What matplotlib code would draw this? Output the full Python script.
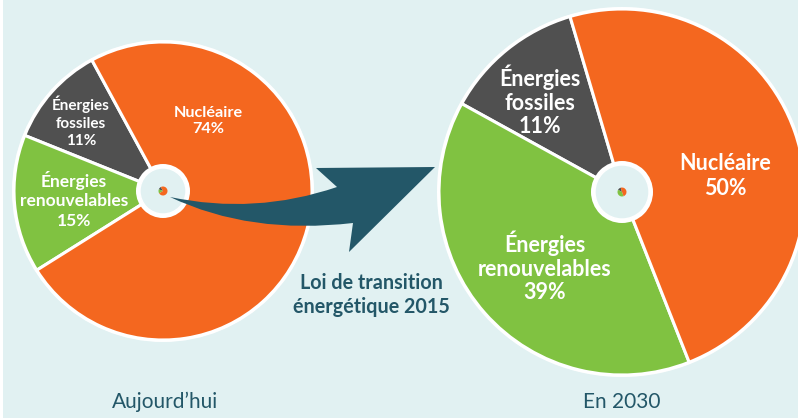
import matplotlib
matplotlib.use('Agg')
import matplotlib.pyplot as plt
from matplotlib.patches import Circle, PathPatch, Rectangle
from matplotlib.path import Path

##Values
left_labels = ['Énergies\nfossiles\n11%', 'Énergies\nrenouvelables\n15%', 'Nucléaire\n74%']
left_values = [11, 15, 74]
right_labels = ['Énergies\nfossiles\n11%', 'Énergies\nrenouvelables\n39%', 'Nucléaire\n50%']
# slices as drawn in the picture, the printed shares are in right_labels
right_values = [12.4, 39, 48.6]
captions = ['Aujourd’hui', 'En 2030']
law_text = 'Loi de transition\nénergétique 2015'

GRAY = '#505050'
GREEN = '#80C241'
ORANGE = '#F4671F'
BG = '#E1F1F2'
TEAL = '#235768'
colors = [GRAY, GREEN, ORANGE]
H = 418

plt.rcParams['font.family'] = ['Lato', 'DejaVu Sans']
fig = plt.figure(figsize=(7.98, 4.18), dpi=100, facecolor='white')
ax = fig.add_axes([0, 0, 1, 1])


def one_pie(values, cx, cy, r, start, hole):
    y = H - cy
    ax.add_patch(Circle((cx, y), r + 2, fc='white', ec='none', zorder=1))
    ax.pie(values, colors=colors, startangle=start, center=(cx, y), radius=r,
           frame=True, wedgeprops={'edgecolor': 'white', 'linewidth': 2.2, 'zorder': 2})
    ax.add_patch(Circle((cx, y), hole, fc='white', ec='none', zorder=3))
    ax.add_patch(Circle((cx, y), hole - 4, fc=BG, ec='white', lw=1, zorder=3))
    # tiny copy of the pie in the middle
    w, _ = ax.pie(values, colors=colors, startangle=start, center=(cx, y), radius=4.5, frame=True)
    for p in w:
        p.set_zorder(4)


def label(x, y, s, size, spacing, color='white', weight='bold'):
    ax.text(x, H - y, s, color=color, ha='center', va='center', fontweight=weight,
            fontsize=size, linespacing=spacing, zorder=6)


ax.add_patch(Rectangle((3, 0), 795, H, fc=BG, ec='none', zorder=0))
one_pie(left_values, 163, 191, 149, 118.5, 27)
one_pie(right_values, 622, 192, 183, 106.5, 31)

ax.set_xlim(0, 798)
ax.set_ylim(0, H)
ax.axis('off')

##Arrow
verts = [(170, 197), (255, 215), (337, 187), (316, 168), (435, 167), (349, 252),
         (353, 223), (250, 235), (170, 197), (170, 197)]
codes = [Path.MOVETO, Path.CURVE3, Path.CURVE3, Path.LINETO, Path.LINETO, Path.LINETO,
         Path.LINETO, Path.CURVE3, Path.CURVE3, Path.CLOSEPOLY]
ax.add_patch(PathPatch(Path([(x, H - y) for x, y in verts], codes), fc=TEAL, ec='none', zorder=5))

##Texts
label(81, 122, left_labels[0], 11, 1.3)
label(74, 200, left_labels[1], 12.5, 1.26)
label(208, 121, left_labels[2], 11.7, 1.1)
label(540, 101, right_labels[0], 15.5, 1.16)
label(545, 267, right_labels[1], 15.5, 1.16)
label(725, 176, right_labels[2], 15.5, 1.25)

label(371, 295, law_text, 14.2, 1.25, color=TEAL)
label(165, 402, captions[0], 15, 1.0, color=TEAL, weight='normal')
label(622, 402, captions[1], 15, 1.0, color=TEAL, weight='normal')

fig.savefig('out.png', dpi=100)
